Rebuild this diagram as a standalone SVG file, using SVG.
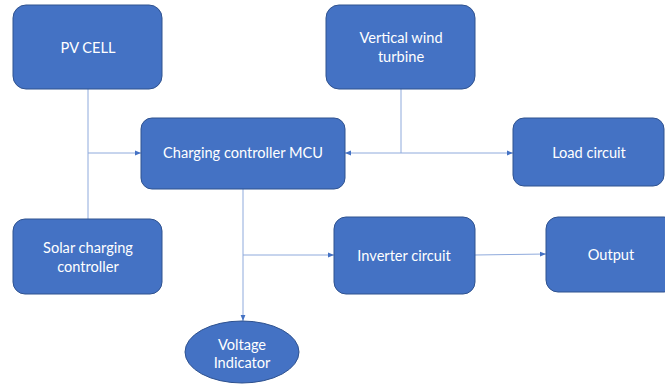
<svg xmlns="http://www.w3.org/2000/svg" width="665" height="385" viewBox="0 0 665 385">
<defs>
<style>
.n{fill:#4472C4;stroke:#2F528F;stroke-width:1}
.t{fill:#ffffff;font-family:Lato,"Liberation Sans",sans-serif;font-size:14.6px;text-anchor:middle}
.c{fill:none;stroke:#8FAADC;stroke-width:1}
</style>
<marker id="a" viewBox="0 0 10 10" refX="10" refY="5" markerWidth="6" markerHeight="6" orient="auto-start-reverse" markerUnits="userSpaceOnUse">
<path d="M0,1 L10,5 L0,9 z" fill="#4472C4"/>
</marker>
</defs>
<rect width="665" height="385" fill="#ffffff"/>
<g id="connectors">
<path class="c" d="M88,89 V219"/>
<path class="c" d="M88,153 H141" marker-end="url(#a)"/>
<path class="c" d="M401,89 V153"/>
<path class="c" d="M345,153 H513" marker-start="url(#a)" marker-end="url(#a)"/>
<path class="c" d="M243,189 V321" marker-end="url(#a)"/>
<path class="c" d="M243,255 H334" marker-end="url(#a)"/>
<path class="c" d="M475,255 L546,254" marker-end="url(#a)"/>
</g>
<g id="pv-cell">
<rect class="n" x="13" y="5" width="149" height="84" rx="13"/>
<text class="t" x="88" y="53">PV CELL</text>
</g>
<g id="wind-turbine">
<rect class="n" x="326" y="5" width="149" height="84" rx="13"/>
<text class="t" x="401" y="43">Vertical wind</text>
<text class="t" x="401" y="62">turbine</text>
</g>
<g id="mcu">
<rect class="n" x="141" y="118" width="204" height="71" rx="11"/>
<text class="t" x="243" y="158">Charging controller MCU</text>
</g>
<g id="load-circuit">
<rect class="n" x="513" y="118" width="151" height="68" rx="11"/>
<text class="t" x="589" y="158">Load circuit</text>
</g>
<g id="solar-controller">
<rect class="n" x="13" y="219" width="149" height="75" rx="12"/>
<text class="t" x="88" y="253">Solar charging</text>
<text class="t" x="88" y="272">controller</text>
</g>
<g id="inverter">
<rect class="n" x="334" y="217" width="141" height="77" rx="12"/>
<text class="t" x="404" y="261">Inverter circuit</text>
</g>
<g id="output">
<rect class="n" x="546" y="217" width="130" height="75" rx="12"/>
<text class="t" x="611" y="260">Output</text>
</g>
<g id="voltage-indicator">
<ellipse class="n" cx="242" cy="352" rx="57" ry="31"/>
<text class="t" x="242" y="350">Voltage</text>
<text class="t" x="242" y="368">Indicator</text>
</g>
</svg>
